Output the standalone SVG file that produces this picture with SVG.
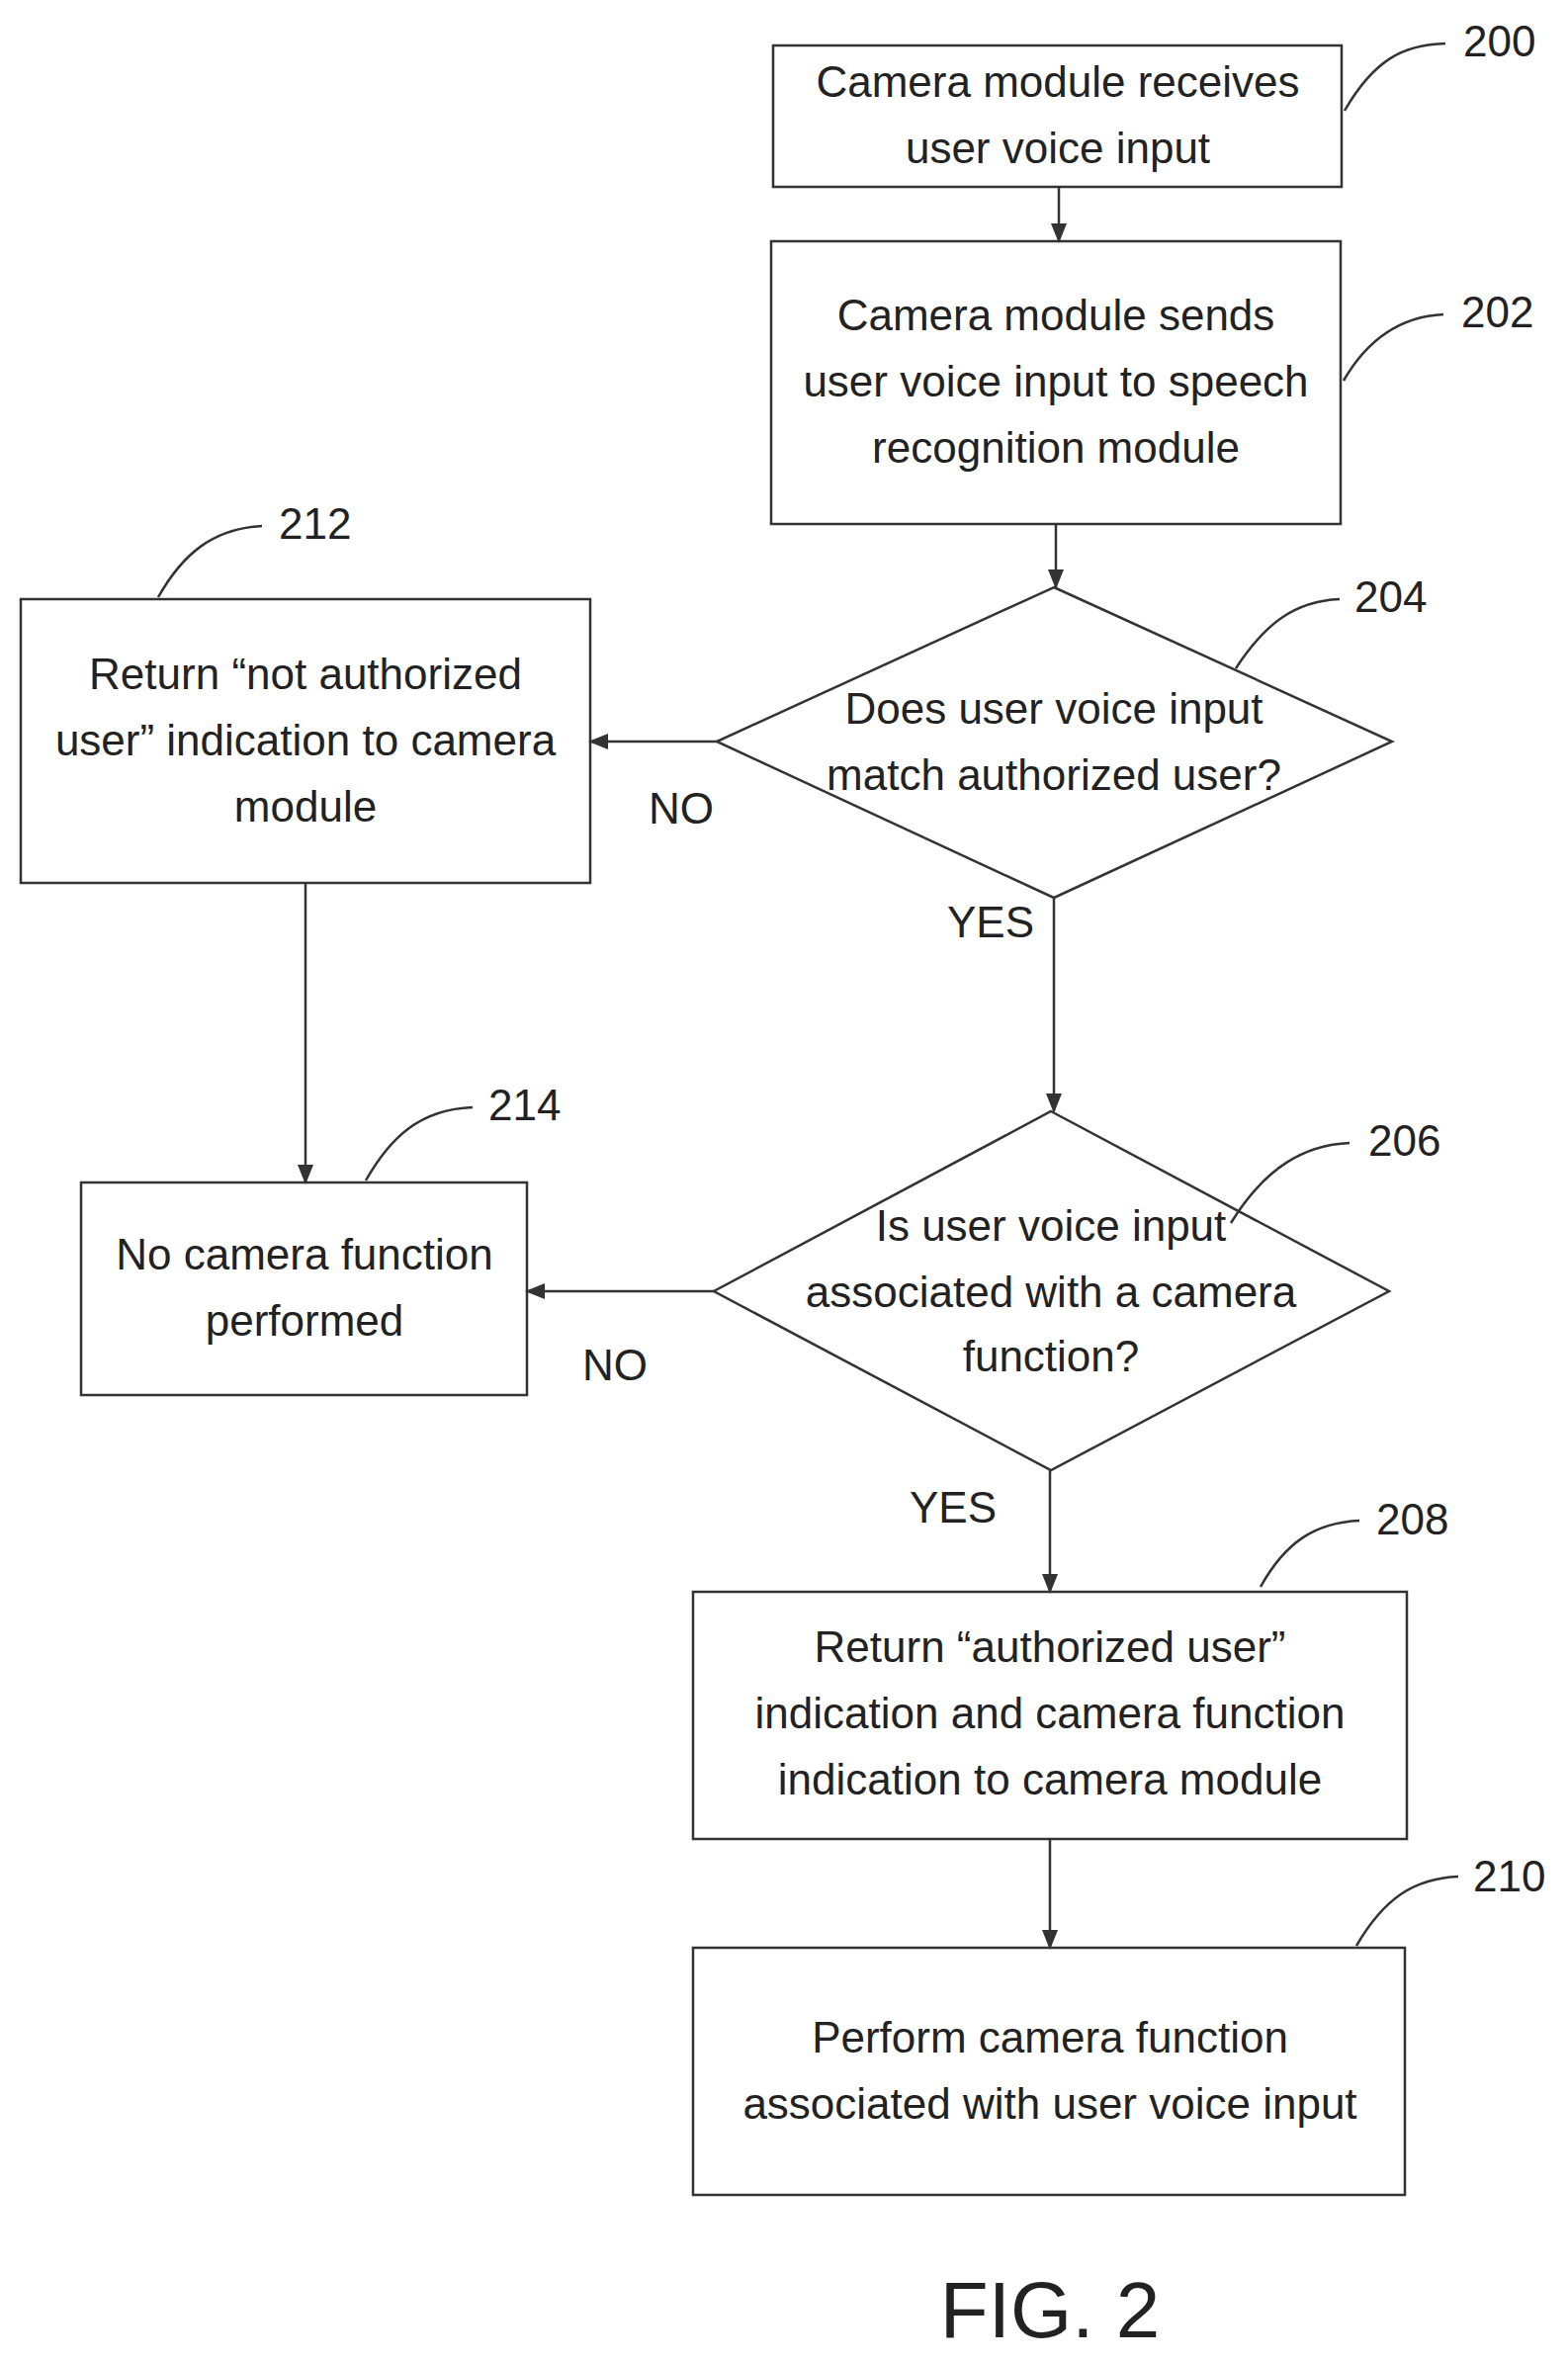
<svg xmlns="http://www.w3.org/2000/svg" width="1586" height="2389" viewBox="0 0 1586 2389">
<style>
.n{fill:#fff;stroke:#333;stroke-width:2.5}
text{font-family:"Liberation Sans",Arial,sans-serif;font-size:44px;fill:#222;text-anchor:middle;dominant-baseline:central}
.l{stroke:#333;stroke-width:2.5;fill:none}
.r{text-anchor:start}
</style>
<defs><marker id="a" markerWidth="10" markerHeight="10" refX="9" refY="5" orient="auto" markerUnits="userSpaceOnUse" viewBox="0 0 10 10"><path d="M0,0L10,5L0,10z" fill="#333"/></marker>
<marker id="b" markerWidth="20" markerHeight="20" refX="18" refY="10" orient="auto" markerUnits="userSpaceOnUse" viewBox="0 0 20 20"><path d="M0,2L20,10L0,18z" fill="#333"/></marker></defs>
<g id="n200"><rect class="n" x="782" y="46" width="575" height="143"/><text x="1070" y="82">Camera module receives</text><text x="1070" y="149">user voice input</text></g>
<g id="n202"><rect class="n" x="780" y="244" width="576" height="286"/><text x="1068" y="318">Camera module sends</text><text x="1068" y="385">user voice input to speech</text><text x="1068" y="452">recognition module</text></g>
<g id="n204"><polygon class="n" points="1066,594 1408,750 1066,908 725,750"/><text x="1066" y="716">Does user voice input</text><text x="1066" y="783">match authorized user?</text></g>
<g id="n212"><rect class="n" x="21" y="606" width="576" height="287"/><text x="309" y="681">Return “not authorized</text><text x="309" y="748">user” indication to camera</text><text x="309" y="815">module</text></g>
<g id="n214"><rect class="n" x="82" y="1196" width="451" height="215"/><text x="308" y="1268">No camera function</text><text x="308" y="1335">performed</text></g>
<g id="n206"><polygon class="n" points="1063,1124 1405,1306 1063,1487 722,1306"/><text x="1063" y="1239">Is user voice input</text><text x="1063" y="1306">associated with a camera</text><text x="1063" y="1371">function?</text></g>
<g id="n208"><rect class="n" x="701" y="1610" width="722" height="250"/><text x="1062" y="1665">Return “authorized user”</text><text x="1062" y="1732">indication and camera function</text><text x="1062" y="1799">indication to camera module</text></g>
<g id="n210"><rect class="n" x="701" y="1970" width="720" height="250"/><text x="1062" y="2060">Perform camera function</text><text x="1062" y="2127">associated with user voice input</text></g>
<g id="connectors">
<path class="l" marker-end="url(#b)" d="M1071,189V244"/>
<path class="l" marker-end="url(#b)" d="M1068,530V594"/>
<path class="l" marker-end="url(#b)" d="M725,750H597"/>
<path class="l" marker-end="url(#b)" d="M1066,908V1124"/>
<path class="l" marker-end="url(#b)" d="M309,893V1196"/>
<path class="l" marker-end="url(#b)" d="M722,1306H533"/>
<path class="l" marker-end="url(#b)" d="M1062,1487V1610"/>
<path class="l" marker-end="url(#b)" d="M1062,1860V1970"/>
<text x="689" y="817">NO</text><text x="1002" y="932">YES</text>
<text x="622" y="1380">NO</text><text x="964" y="1524">YES</text>
</g>
<g id="refs">
<path class="l" d="M1360,112C1390,60 1420,45 1462,44"/><text class="r" x="1480" y="41">200</text>
<path class="l" d="M1359,385C1385,340 1420,320 1460,318"/><text class="r" x="1478" y="315">202</text>
<path class="l" d="M1250,676C1280,630 1310,608 1355,606"/><text class="r" x="1370" y="603">204</text>
<path class="l" d="M1245,1237C1280,1180 1320,1158 1365,1156"/><text class="r" x="1384" y="1153">206</text>
<path class="l" d="M1275,1605C1300,1560 1330,1540 1375,1538"/><text class="r" x="1392" y="1536">208</text>
<path class="l" d="M1372,1968C1400,1920 1430,1900 1475,1898"/><text class="r" x="1490" y="1897">210</text>
<path class="l" d="M160,604C185,560 215,535 265,532"/><text class="r" x="282" y="529">212</text>
<path class="l" d="M370,1194C395,1150 425,1122 478,1120"/><text class="r" x="494" y="1117">214</text>
</g>
<text x="1062" y="2336" style="font-size:80px">FIG. 2</text>
</svg>
